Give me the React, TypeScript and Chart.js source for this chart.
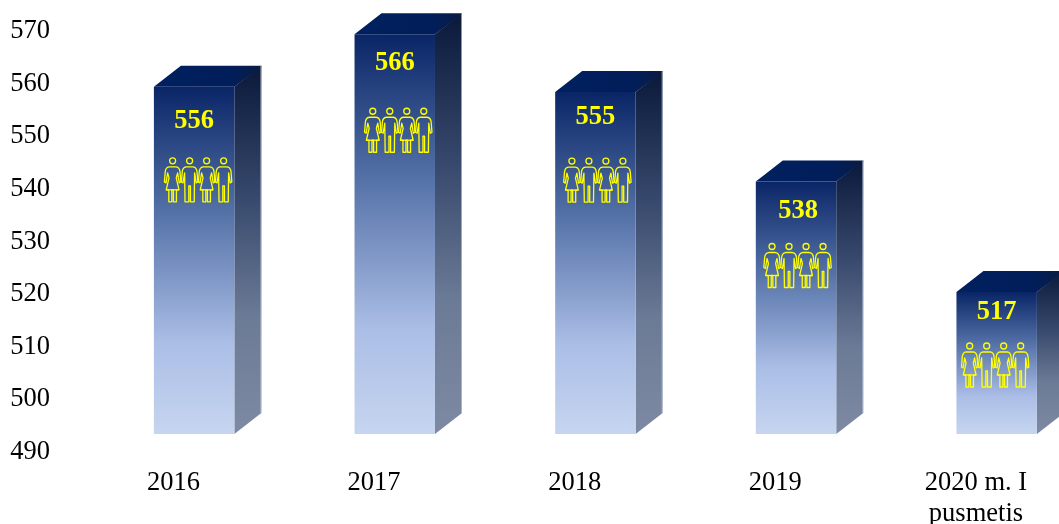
import React, { useEffect, useRef } from "react";
import { Chart, registerables } from "chart.js";

Chart.register(...registerables);

const categories: (string | string[])[] = ["2016", "2017", "2018", "2019", ["2020 m. I", "pusmetis"]];
const employees = [556, 566, 555, 538, 517];
const yTicks = { min: 490, max: 570, step: 10 };

// Label and icon placement below each bar's top edge (pixels), as in the reference
const valueLabelDrop = [34.5, 28.5, 25.5, 29.5, 20.5];
const valueLabelShift = [0, 0, 0, 2, 0];
const iconDrop = [75, 78, 70, 66, 55];
const iconShift = [4, 3.5, 2, 1.5, -1.5];

const DEPTH_X = 27;
const DEPTH_Y = 21;
const FONT = '"Liberation Serif", "Times New Roman", serif';

function person(ctx: CanvasRenderingContext2D, cx: number, y0: number, female: boolean) {
  ctx.beginPath();
  ctx.arc(cx, y0, 3, 0, Math.PI * 2);
  ctx.stroke();
  const pts: [number, number][] = female
    ? [[-8.2, 21], [-6.6, 22], [-5, 12], [-3.6, 17], [-6.4, 29], [-3.8, 29], [-3.8, 41], [-0.8, 41], [-0.8, 29]]
    : [[-8.2, 21], [-6.6, 22], [-5, 12], [-4.6, 41], [-0.8, 41], [-0.8, 25]];
  ctx.beginPath();
  ctx.moveTo(cx, y0 + 6);
  ctx.lineTo(cx - 3.5, y0 + 6);
  ctx.quadraticCurveTo(cx - 7, y0 + 6.5, cx - 7.4, y0 + 11);
  pts.forEach(([x, y]) => ctx.lineTo(cx + x, y0 + y));
  pts.slice().reverse().forEach(([x, y]) => ctx.lineTo(cx - x, y0 + y));
  ctx.lineTo(cx + 7.4, y0 + 11);
  ctx.quadraticCurveTo(cx + 7, y0 + 6.5, cx + 3.5, y0 + 6);
  ctx.closePath();
  ctx.stroke();
  if (female) {
    ctx.beginPath();
    ctx.moveTo(cx - 6.4, y0 + 29);
    ctx.lineTo(cx + 6.4, y0 + 29);
    ctx.stroke();
  }
}

const facesPlugin = {
  id: "faces",
  beforeDatasetsDraw(chart: any) {
    const { ctx } = chart;
    chart.getDatasetMeta(0).data.forEach((bar: any) => {
      const half = bar.width / 2;
      const l = bar.x - half;
      const r = bar.x + half;
      const t = bar.y;
      const b = bar.base;
      const side = ctx.createLinearGradient(0, t - DEPTH_Y, 0, b);
      side.addColorStop(0, "#0a193a");
      side.addColorStop(0.36, "#37496d");
      side.addColorStop(0.68, "#6b7a95");
      side.addColorStop(1, "#7e8aa3");
      ctx.fillStyle = side;
      ctx.beginPath();
      ctx.moveTo(r, t);
      ctx.lineTo(r + DEPTH_X, t - DEPTH_Y);
      ctx.lineTo(r + DEPTH_X, b - DEPTH_Y);
      ctx.lineTo(r, b);
      ctx.closePath();
      ctx.fill();
      const top = ctx.createLinearGradient(l, 0, r + DEPTH_X, 0);
      top.addColorStop(0, "#00205f");
      top.addColorStop(0.72, "#021e5a");
      top.addColorStop(1, "#0a1b42");
      ctx.fillStyle = top;
      ctx.beginPath();
      ctx.moveTo(l, t);
      ctx.lineTo(l + DEPTH_X, t - DEPTH_Y);
      ctx.lineTo(r + DEPTH_X, t - DEPTH_Y);
      ctx.lineTo(r + DEPTH_X, t - DEPTH_Y + 1);
      ctx.lineTo(r, t);
      ctx.closePath();
      ctx.fill();
      ctx.strokeStyle = "rgba(190,200,220,0.7)";
      ctx.lineWidth = 1;
      ctx.beginPath();
      ctx.moveTo(r + DEPTH_X - 0.5, t - DEPTH_Y);
      ctx.lineTo(r + DEPTH_X - 0.5, b - DEPTH_Y);
      ctx.stroke();
    });
  },
  afterDatasetsDraw(chart: any) {
    const { ctx } = chart;
    ctx.save();
    chart.getDatasetMeta(0).data.forEach((bar: any, i: number) => {
      ctx.fillStyle = "#ffff00";
      ctx.font = `bold 26.5px ${FONT}`;
      ctx.textAlign = "center";
      ctx.textBaseline = "middle";
      ctx.fillText(String(employees[i]), bar.x + valueLabelShift[i], bar.y + valueLabelDrop[i]);
      ctx.strokeStyle = "#ffff00";
      ctx.lineWidth = 1.3;
      ctx.lineJoin = "round";
      const cx = bar.x + iconShift[i];
      const y0 = bar.y + iconDrop[i] - 1;
      person(ctx, cx - 25.5, y0, true);
      person(ctx, cx - 8.5, y0, false);
      person(ctx, cx + 8.5, y0, true);
      person(ctx, cx + 25.5, y0, false);
    });
    ctx.restore();
  },
};

export default function App() {
  const ref = useRef<HTMLCanvasElement>(null);
  useEffect(() => {
    const chart = new Chart(ref.current!, {
      type: "bar",
      data: {
        labels: categories as any,
        datasets: [
          {
            data: employees,
            base: yTicks.min,
            categoryPercentage: 1,
            barPercentage: 0.401,
            backgroundColor: (c: any) => {
              const area = c.chart.chartArea;
              const scale = c.chart.scales.y;
              if (!area || !scale) return "#5a77ab";
              const topY = scale.getPixelForValue(employees[c.dataIndex]);
              const baseY = scale.getPixelForValue(yTicks.min);
              const g = c.chart.ctx.createLinearGradient(0, topY, 0, baseY);
              g.addColorStop(0, "#0a2566");
              g.addColorStop(0.33, "#4d6ba2");
              g.addColorStop(0.74, "#abbee6");
              g.addColorStop(1, "#c6d5ef");
              return g;
            },
          },
        ],
      },
      plugins: [facesPlugin],
      options: {
        responsive: false,
        animation: false,
        layout: { padding: { top: 13.2, left: 0, right: 0, bottom: 0 } },
        plugins: { legend: { display: false }, tooltip: { enabled: false } },
        scales: {
          x: {
            grid: { display: false, drawTicks: false },
            border: { display: false },
            afterFit: (s: any) => {
              s.height = 90;
              s.paddingLeft = 0;
              s.paddingRight = 0;
            },
            ticks: {
              color: "#000",
              font: { family: FONT, size: 26.5, lineHeight: 1.16 },
              padding: 34,
              labelOffset: -20.7,
              maxRotation: 0,
              minRotation: 0,
              autoSkip: false,
            },
          },
          y: {
            min: yTicks.min,
            max: yTicks.max,
            grid: { display: false, drawTicks: false },
            border: { display: false },
            afterFit: (s: any) => {
              s.width = 93.8;
              s.paddingTop = 0;
              s.paddingBottom = 0;
            },
            ticks: {
              stepSize: yTicks.step,
              color: "#000",
              font: { family: FONT, size: 26.5 },
              padding: 43.8,
              labelOffset: 18,
            },
          },
        },
      },
    });
    chart.update();
    return () => chart.destroy();
  }, []);
  return (
    <div style={{ position: "fixed", left: 0, top: 0, width: 1059, height: 524, overflow: "hidden", background: "#fff" }}>
      <canvas ref={ref} width={1097} height={524} style={{ display: "block" }} />
    </div>
  );
}
